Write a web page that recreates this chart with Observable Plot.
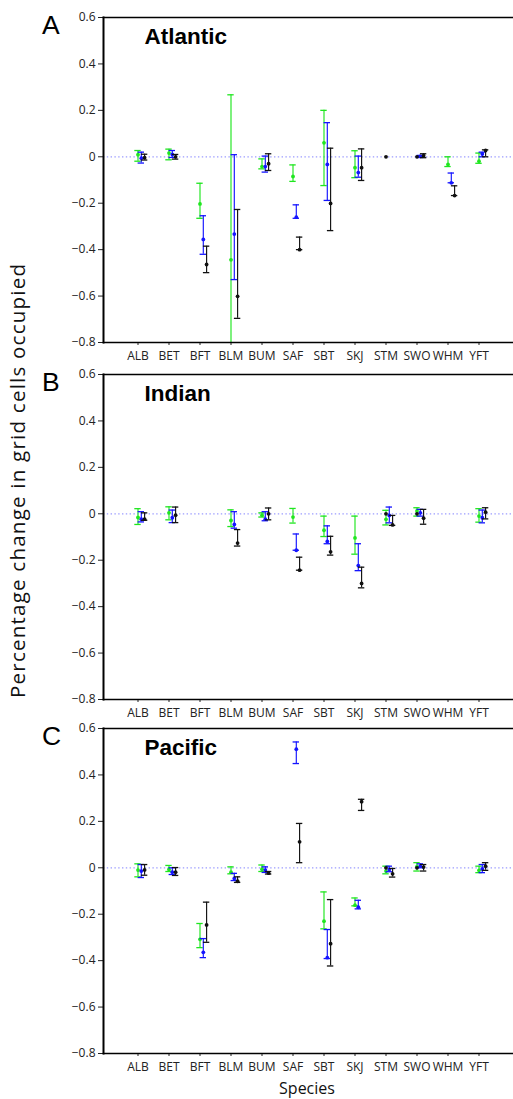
<!DOCTYPE html>
<html>
<head>
<meta charset="utf-8">
<script src="https://cdn.jsdelivr.net/npm/d3@7"></script>
<script src="https://cdn.jsdelivr.net/npm/@observablehq/plot@0.6"></script>
<style>
  html, body { margin: 0; padding: 0; background: #fff; overflow: hidden; }
  #chart { position: relative; width: 513px; height: 1099px; }
  #chart > svg, #chart > figure { position: absolute; left: 0; margin: 0; }
</style>
</head>
<body>
<div id="chart"></div>
<script>
// ---------------- data ----------------
const species = ["ALB","BET","BFT","BLM","BUM","SAF","SBT","SKJ","STM","SWO","WHM","YFT"];
const yTickValues = [-0.8, -0.6, -0.4, -0.2, 0, 0.2, 0.4, 0.6];
const panelTitles = ["Atlantic", "Indian", "Pacific"];
const panelLetters = ["A", "B", "C"];
const yLabel = "Percentage change in grid cells occupied";
const xLabel = "Species";

// each entry: [mean, lower, upper]; null = no estimate
const atlanticGreen = [[0.009,-0.019,0.027],[0.016,-0.013,0.033],[-0.203,-0.265,-0.114],[-0.444,-0.95,0.267],[-0.042,-0.052,-0.009],[-0.085,-0.106,-0.035],[0.06,-0.124,0.2],[-0.047,-0.09,0.026],null,null,[-0.033,-0.042,0.0],[-0.019,-0.028,0.016]];
const atlanticBlue  = [[-0.006,-0.027,0.02],[0.01,-0.003,0.027],[-0.356,-0.42,-0.254],[-0.333,-0.529,0.009],[-0.042,-0.066,0.003],[-0.26,-0.265,-0.207],[-0.033,-0.188,0.147],[-0.068,-0.088,0.003],null,[0.002,-0.003,0.006],[-0.112,-0.112,-0.07],[0.012,0.0,0.02]];
const atlanticBlack = [[-0.004,-0.014,0.011],[0.0,-0.01,0.01],[-0.464,-0.499,-0.385],[-0.601,-0.696,-0.227],[-0.03,-0.059,0.013],[-0.4,-0.4,-0.346],[-0.201,-0.318,0.037],[-0.047,-0.102,0.034],null,[0.005,-0.004,0.013],[-0.167,-0.167,-0.125],[0.027,0.0,0.03]];
const atlanticRef   = [null,null,null,null,null,null,null,null,0,0,null,null];

const indianGreen = [[-0.016,-0.046,0.022],[0.004,-0.026,0.03],null,[-0.029,-0.055,0.017],[-0.006,-0.014,0.004],[-0.014,-0.04,0.023],[-0.071,-0.098,-0.01],[-0.104,-0.174,-0.01],[-0.024,-0.048,0.015],[0.012,-0.01,0.026],null,[-0.01,-0.036,0.022]];
const indianBlue  = [[-0.023,-0.035,0.009],[-0.017,-0.038,0.016],null,[-0.046,-0.062,0.009],[-0.023,-0.03,0.009],[-0.157,-0.157,-0.087],[-0.119,-0.129,-0.052],[-0.223,-0.245,-0.129],[-0.007,-0.039,0.029],[0.004,-0.01,0.019],null,[-0.017,-0.039,0.016]];
const indianBlack = [[-0.023,-0.028,0.004],[-0.006,-0.038,0.029],null,[-0.126,-0.139,-0.068],[0.0,-0.026,0.025],[-0.243,-0.243,-0.187],[-0.164,-0.178,-0.097],[-0.3,-0.319,-0.23],[-0.048,-0.05,-0.007],[-0.019,-0.045,0.019],null,[0.007,-0.022,0.026]];
const indianRef   = [null,null,null,null,null,null,null,null,0,0,null,null];

const pacificGreen = [[-0.01,-0.039,0.017],[-0.007,-0.016,0.01],[-0.308,-0.344,-0.24],[-0.019,-0.026,0.004],[-0.006,-0.016,0.012],null,[-0.23,-0.263,-0.104],[-0.161,-0.164,-0.13],[-0.014,-0.026,0.007],[0.005,-0.014,0.022],null,[-0.011,-0.021,0.007]];
const pacificBlue  = [[-0.014,-0.042,0.014],[-0.019,-0.029,0.0],[-0.364,-0.387,-0.305],[-0.046,-0.055,-0.024],[-0.01,-0.02,0.004],[0.511,0.449,0.542],[-0.387,-0.391,-0.266],[-0.17,-0.177,-0.14],[-0.007,-0.017,0.007],[0.007,0.0,0.017],null,[-0.005,-0.021,0.014]];
const pacificBlack = [[-0.009,-0.032,0.014],[-0.019,-0.033,0.001],[-0.246,-0.321,-0.148],[-0.058,-0.063,-0.039],[-0.023,-0.027,-0.016],[0.112,0.022,0.191],[-0.327,-0.423,-0.137],[0.285,0.247,0.295],[-0.026,-0.04,-0.003],[0.003,-0.014,0.014],null,[0.007,-0.011,0.022]];
const pacificRef   = [null,null,null,null,null,null,null,null,0,0,null,null];

// ---------------- build tables ----------------
const seriesStyle = [
  {key: "green", color: "#1fe61f", dx: 0},
  {key: "blue",  color: "#1414ff", dx: 3.3},
  {key: "black", color: "#111111", dx: 6.6}
];
const oceanData = [
  {green: atlanticGreen, blue: atlanticBlue, black: atlanticBlack, ref: atlanticRef},
  {green: indianGreen,   blue: indianBlue,   black: indianBlack,   ref: indianRef},
  {green: pacificGreen,  blue: pacificBlue,  black: pacificBlack,  ref: pacificRef}
];
function rowsFor(arr) {
  const out = [];
  arr.forEach((e, i) => { if (e) out.push({species: species[i], mean: e[0], lo: e[1], hi: e[2]}); });
  return out;
}
function refRows(arr) {
  const out = [];
  arr.forEach((v, i) => { if (v !== null) out.push({species: species[i], mean: v}); });
  return out;
}

const fmt = d => Math.abs(d) < 1e-9 ? "0" : d3.format(".1f")(d);

// panel layout: [svgTop, svgHeight, marginTop, marginBottom]
const layout = [[0, 362, 17, 20], [362, 356, 12, 19], [718, 381, 10, 46]];

const chart = document.getElementById("chart");

layout.forEach(([top, h, mt, mb], p) => {
  const od = oceanData[p];
  const marks = [
    Plot.ruleY([0], {stroke: "#9c9cff", strokeWidth: 1.3, strokeDasharray: "1.4,2.4"})
  ];
  seriesStyle.forEach(s => {
    const rows = rowsFor(od[s.key]);
    const capInset = 12.3;
    marks.push(
      Plot.ruleX(rows, {x: "species", y1: "lo", y2: "hi", stroke: s.color, strokeWidth: 1.15, dx: s.dx, clip: true}),
      Plot.tickY(rows, {x: "species", y: "lo", stroke: s.color, strokeWidth: 1.3, dx: s.dx, insetLeft: capInset, insetRight: capInset, clip: true}),
      Plot.tickY(rows, {x: "species", y: "hi", stroke: s.color, strokeWidth: 1.3, dx: s.dx, insetLeft: capInset, insetRight: capInset, clip: true}),
      Plot.dot(rows, {x: "species", y: "mean", r: 1.9, fill: s.color, stroke: "none", dx: s.dx})
    );
  });
  marks.push(
    Plot.dot(refRows(od.ref), {x: "species", y: "mean", r: 1.9, fill: "#111", stroke: "none"}),
    Plot.frame({anchor: "left", strokeWidth: 2, stroke: "#000"}),
    Plot.frame({anchor: "top", strokeWidth: 1.5, stroke: "#000"}),
    Plot.frame({anchor: "bottom", strokeWidth: 1.5, stroke: "#000"}),
    Plot.text([panelTitles[p]], {frameAnchor: "top-left", dx: 41, dy: 11, lineAnchor: "top", textAnchor: "start",
      fontSize: 22.5, fontWeight: "bold", fontFamily: "'Liberation Sans', Arial, sans-serif", fill: "#000"})
  );
  const svg = Plot.plot({
    width: 513,
    height: h,
    marginLeft: 103,
    marginRight: 0,
    marginTop: mt,
    marginBottom: mb,
    style: {background: "transparent", overflow: "visible", fontFamily: "'Open Sans', sans-serif", fontSize: "12px", color: "#222"},
    x: {type: "band", domain: species, paddingInner: 0, paddingOuter: 0.5, label: null, tickSize: 3, tickPadding: 6},
    y: {domain: [-0.8, 0.6], ticks: yTickValues, tickFormat: fmt, label: null, tickSize: 5, tickPadding: 3},
    marks
  });
  svg.style.top = top + "px";
  chart.appendChild(svg);
});

// overlay text: panel letters, y label, x label
const NS = "http://www.w3.org/2000/svg";
const ov = document.createElementNS(NS, "svg");
ov.setAttribute("width", 513);
ov.setAttribute("height", 1099);
ov.style.position = "absolute";
ov.style.left = "0px";
ov.style.top = "0px";
ov.style.pointerEvents = "none";
function addText(str, attrs) {
  const t = document.createElementNS(NS, "text");
  for (const k in attrs) t.setAttribute(k, attrs[k]);
  t.textContent = str;
  ov.appendChild(t);
  return t;
}
const panelTops = [17, 374, 728];
panelLetters.forEach((L, i) => {
  addText(L, {x: 42, y: panelTops[i] + 17, "font-family": "'Liberation Sans', Arial, sans-serif", "font-size": 26.5, fill: "#000"});
});
addText(yLabel, {x: 0, y: 0, transform: "translate(25,481) rotate(-90)", "text-anchor": "middle",
  "font-family": "'Open Sans', sans-serif", "font-size": 20.5, textLength: 434, lengthAdjust: "spacing", fill: "#111"});
addText(xLabel, {x: 307, y: 1094, "text-anchor": "middle", "font-family": "'Open Sans', sans-serif", "font-size": 16, fill: "#111"});
chart.appendChild(ov);
</script>
</body>
</html>
